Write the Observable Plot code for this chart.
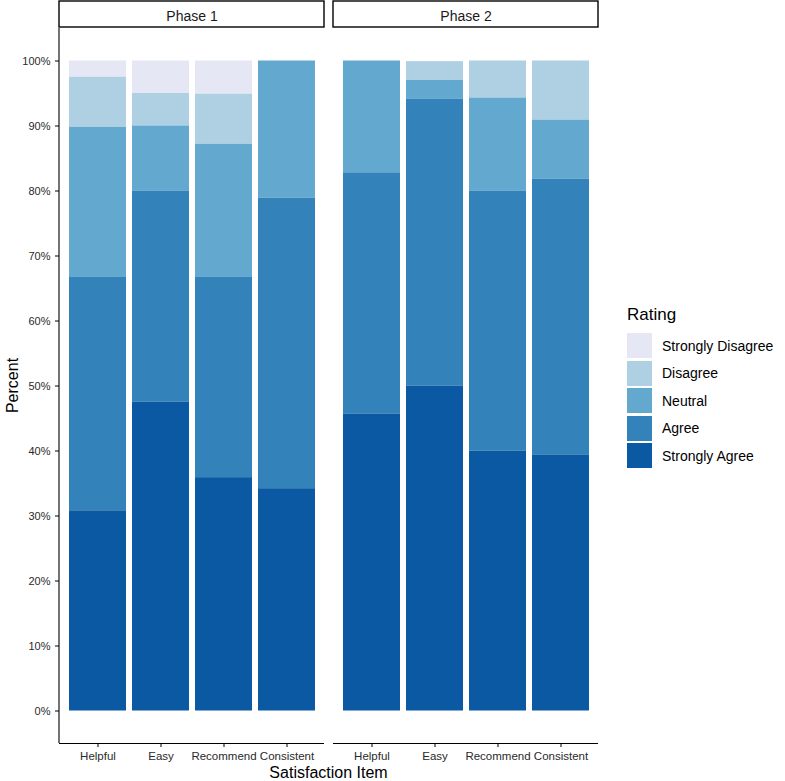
<!DOCTYPE html>
<html><head><meta charset="utf-8">
<script src="https://cdn.jsdelivr.net/npm/d3@7"></script>
<script src="https://cdn.jsdelivr.net/npm/@observablehq/plot@0.6"></script>
<style>
body{margin:0;background:#fff;font-family:"Liberation Sans",Arial,Helvetica,sans-serif;}
#wrap{position:relative;width:785px;height:781px;overflow:hidden;}
#legend{position:absolute;left:627px;top:303px;color:#000;}
#legend .title{font-size:17px;line-height:24px;margin-bottom:5px;}
#legend .row{display:flex;align-items:center;height:27.5px;}
#legend .key{width:25px;height:25px;margin-right:10px;}
#legend .lab{font-size:14px;}
</style></head><body><div id="wrap"></div>
<script>
const phases = ["Phase 1", "Phase 2"];
const items = ["Helpful", "Easy", "Recommend", "Consistent"];
const ratings = ["Strongly Disagree", "Disagree", "Neutral", "Agree", "Strongly Agree"];
const ratingColors = ["#e5e8f4", "#afcfe2", "#63a8cf", "#3383ba", "#0a59a2"];
const stackOrder = ["Strongly Agree", "Agree", "Neutral", "Disagree", "Strongly Disagree"];
const yTicks = [0, 10, 20, 30, 40, 50, 60, 70, 80, 90, 100];

// each column: Phase 1 (Helpful, Easy, Recommend, Consistent), Phase 2 (same)
const barPhase = ["Phase 1", "Phase 1", "Phase 1", "Phase 1", "Phase 2", "Phase 2", "Phase 2", "Phase 2"];
const barItem  = ["Helpful", "Easy", "Recommend", "Consistent", "Helpful", "Easy", "Recommend", "Consistent"];
const stronglyAgree    = [30.8, 47.5, 35.9, 34.2, 45.7, 50.0, 40.0, 39.4];
const agree            = [35.9, 32.5, 30.8, 44.7, 37.1, 44.1, 40.0, 42.4];
const neutral          = [23.1, 10.0, 20.5, 21.1, 17.2, 2.9, 14.3, 9.1];
const disagree         = [7.7, 5.0, 7.7, 0, 0, 2.9, 5.7, 9.1];
const stronglyDisagree = [2.5, 5.0, 5.1, 0, 0, 0, 0, 0];

const seriesByRating = {
  "Strongly Agree": stronglyAgree,
  "Agree": agree,
  "Neutral": neutral,
  "Disagree": disagree,
  "Strongly Disagree": stronglyDisagree
};
const data = [];
barPhase.forEach((p, i) => {
  ratings.forEach(r => {
    data.push({Phase: p, Item: barItem[i], Rating: r, Percent: seriesByRating[r][i]});
  });
});

const font = '"Liberation Sans", Arial, Helvetica, sans-serif';
const chart = Plot.plot({
  width: 785,
  height: 781,
  marginLeft: 58,
  marginRight: 186,
  marginTop: 28,
  marginBottom: 38,
  style: {fontFamily: font, fontSize: "11px", color: "#333", background: "white"},
  fx: {domain: phases, paddingInner: 0.0327, paddingOuter: 0, label: null},
  x: {domain: items, paddingInner: 0.1, paddingOuter: 0.15, align: 0.5, label: null},
  y: {domain: [-5, 105], label: null},
  color: {domain: ratings, range: ratingColors},
  marks: [
    Plot.barY(data, {fx: "Phase", x: "Item", y: "Percent", fill: "Rating", z: "Rating", order: stackOrder}),
    Plot.ruleY([-5], {stroke: "black", strokeWidth: 1.1}),
    Plot.axisY({ticks: yTicks, tickFormat: d => d + "%", tickSize: 4, tickPadding: 5, label: null, stroke: "black", fill: "#2a2a2a", fontSize: 11}),
    Plot.axisX({tickSize: 4, tickPadding: 4, label: null, stroke: "black", fill: "#2a2a2a", fontSize: 11.5}),
    Plot.axisFx({anchor: "top", tickSize: 0, tickPadding: 8, label: null, fill: "#1a1a1a", fontSize: 14})
  ]
});

document.getElementById("wrap").appendChild(chart);

// strips, axis line and axis titles drawn from the chart's own scales
const svg = d3.select(chart);
const fx = chart.scale("fx");
const y = chart.scale("y");
const [yBottom, yTop] = y.range;
const stripG = svg.insert("g", ":first-child");
phases.forEach(p => {
  stripG.append("rect")
    .attr("x", fx.apply(p))
    .attr("y", 1)
    .attr("width", fx.bandwidth)
    .attr("height", yTop - 2)
    .attr("fill", "white")
    .attr("stroke", "black")
    .attr("stroke-width", 1.4);
});
const leftX = fx.apply(phases[0]);
svg.append("line")
  .attr("x1", leftX).attr("x2", leftX)
  .attr("y1", yTop).attr("y2", yBottom)
  .attr("stroke", "black").attr("stroke-width", 1.1);
const fxLeft = fx.apply(phases[0]);
const fxRight = fx.apply(phases[phases.length - 1]) + fx.bandwidth;
svg.append("text")
  .attr("x", (fxLeft + fxRight) / 2)
  .attr("y", 774)
  .attr("text-anchor", "middle")
  .attr("dominant-baseline", "middle")
  .attr("font-size", 16)
  .attr("fill", "black")
  .text("Satisfaction Item");
svg.append("text")
  .attr("transform", `translate(14,${(yTop + yBottom) / 2}) rotate(-90)`)
  .attr("text-anchor", "middle")
  .attr("dominant-baseline", "middle")
  .attr("font-size", 16)
  .attr("fill", "black")
  .text("Percent");

// legend
const legend = d3.select("#wrap").append("div").attr("id", "legend");
legend.append("div").attr("class", "title").text("Rating");
ratings.forEach((r, i) => {
  const row = legend.append("div").attr("class", "row");
  row.append("div").attr("class", "key").style("background", ratingColors[i]);
  row.append("div").attr("class", "lab").text(r);
});
</script>
</body></html>
